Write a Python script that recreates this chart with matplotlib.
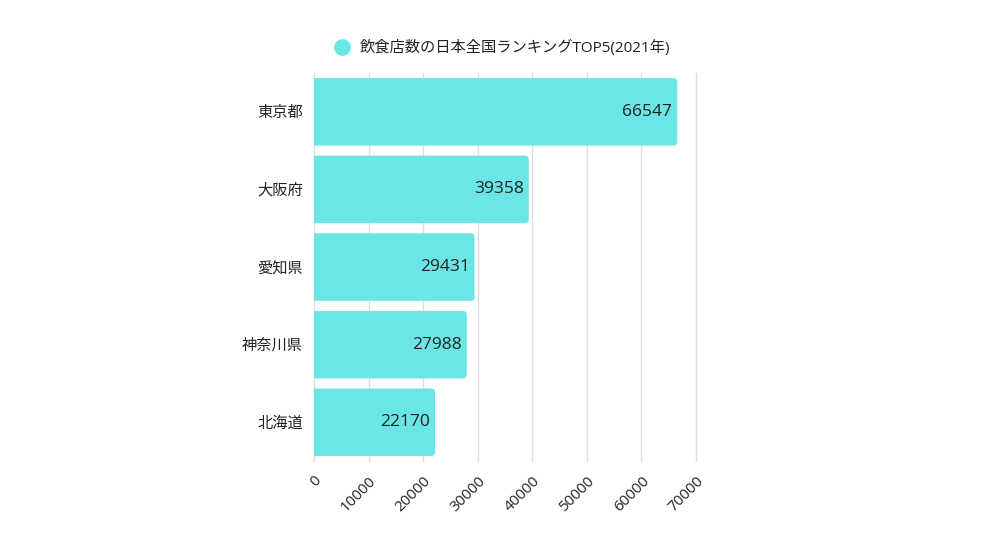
import matplotlib
matplotlib.use('Agg')
from matplotlib import pyplot as plt
from matplotlib.lines import Line2D
from matplotlib.patches import FancyBboxPatch

plt.rcParams['font.family'] = ['Open Sans', 'Noto Sans CJK JP', 'DejaVu Sans']

# データ
prefectures = ['東京都', '大阪府', '愛知県', '神奈川県', '北海道']
shop_counts = [66547, 39358, 29431, 27988, 22170]
legend_label = '飲食店数の日本全国ランキングTOP5(2021年)'
x_ticks = [0, 10000, 20000, 30000, 40000, 50000, 60000, 70000]

bar_color = '#6ae6e7'
text_color = '#222222'

fig = plt.figure(figsize=(9.99, 5.45), dpi=100)
ax = fig.add_axes([0.3143, 0.154, 0.3824, 0.712])

y_pos = list(range(len(prefectures)))
ax.set_ylim(len(prefectures) - 0.5, -0.5)
ax.set_xlim(0, 70000)

# 角丸の棒 (右側だけ見えるよう左端は軸の外から)
bar_h = 0.87
x_per_px = 70000 / (0.3824 * 999)
y_per_px = 5 / (0.712 * 545)
r = 4 * x_per_px
for y, v in zip(y_pos, shop_counts):
    p = FancyBboxPatch((-2000, y - bar_h / 2), v + 2000, bar_h,
                       boxstyle='round,pad=0,rounding_size=%f' % r,
                       mutation_aspect=y_per_px / x_per_px,
                       facecolor=bar_color, edgecolor='none', zorder=2)
    ax.add_patch(p)

ax.set_yticks(y_pos)
ax.set_yticklabels(prefectures, fontsize=11, color=text_color)
ax.set_xticks(x_ticks)
ax.set_xticklabels([str(t) for t in x_ticks], rotation=45, ha='right', va='top',
                   rotation_mode='anchor', fontsize=11, color=text_color)
ax.tick_params(axis='both', length=0)
ax.tick_params(axis='y', pad=8)
ax.tick_params(axis='x', pad=9)

ax.grid(axis='x', color='#dddddd', linewidth=1, zorder=0)
for gl in ax.get_xgridlines():
    gl.set_clip_on(False)
for side in ['top', 'right', 'bottom', 'left']:
    ax.spines[side].set_visible(False)

# 値ラベル
for y, v in zip(y_pos, shop_counts):
    ax.text(v - 900, y, str(v), ha='right', va='center', fontsize=12.5, color=text_color, zorder=3)

# 凡例
handle = Line2D([], [], marker='o', linestyle='none', markersize=11,
                markerfacecolor=bar_color, markeredgecolor=bar_color)
fig.legend([handle], [legend_label], loc='center', bbox_to_anchor=(0.499, 0.912),
           frameon=False, fontsize=11, handletextpad=0.2, labelcolor=text_color)

plt.savefig('out.png')
